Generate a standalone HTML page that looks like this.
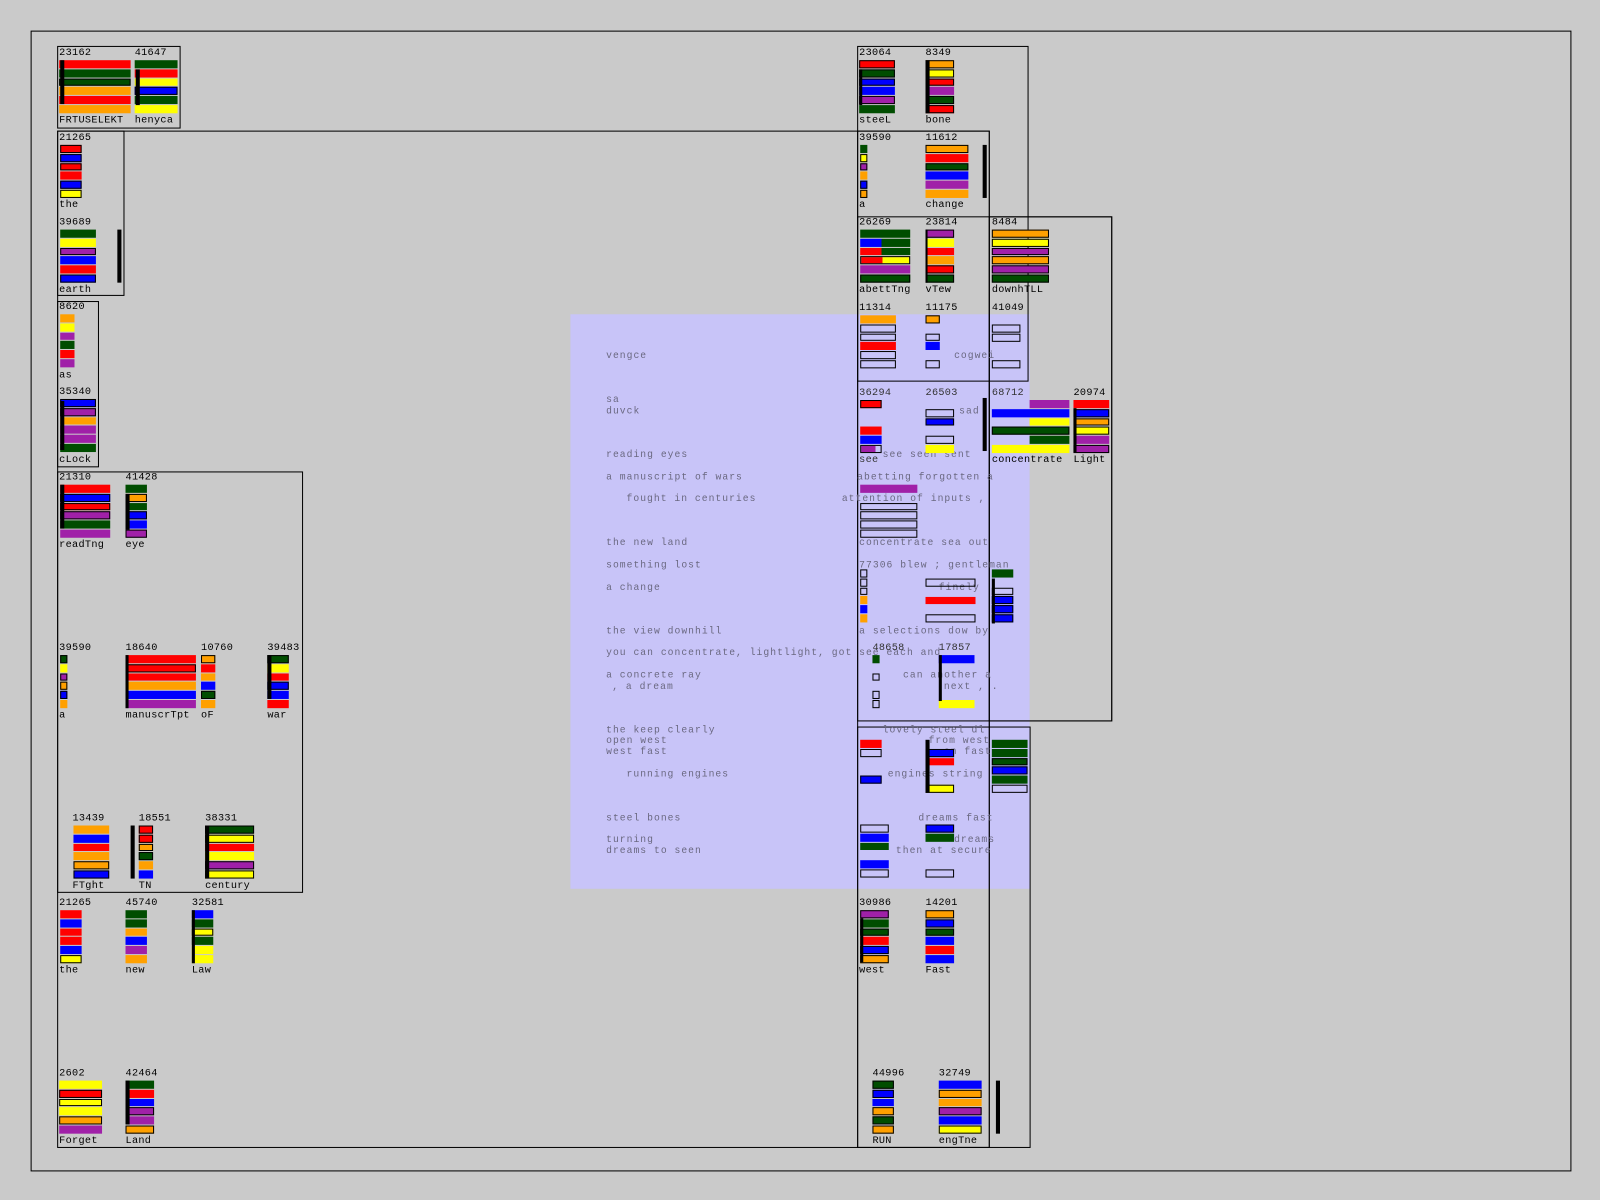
<!DOCTYPE html>
<html><head><meta charset="utf-8"><style>
html,body{margin:0;padding:0;background:#cacaca;width:1600px;height:1200px;overflow:hidden}
#w{position:absolute;left:0;top:0;width:1568px;height:1176px;transform:scale(1.020408);transform-origin:0 0;font-family:"Liberation Mono",monospace;font-size:10px;color:#000}
.bx{position:absolute;border:1px solid #000;box-sizing:border-box}
.t{position:absolute;line-height:10px;white-space:nowrap;letter-spacing:0.3px;padding-top:2px}
.s{position:absolute}
.s i{display:block;height:7.8px;margin-bottom:1px;box-sizing:border-box}
.r{background:#f00}.g{background:#004d00}.b{background:#00f}.y{background:#ff0}.o{background:#ffa000}.p{background:#a020a8}
.k{border:1px solid #000}.e{border:1px solid #000;background:transparent}.x{visibility:hidden}
.st{position:absolute;background:#000;width:4px}
.lv{position:absolute;line-height:10px;white-space:nowrap;color:#6a6880;font-size:9.5px;letter-spacing:1px;padding-top:1px}
</style></head><body><div id="w">
<div style="position:absolute;left:559px;top:308px;width:450px;height:563px;background:#c8c4f8"></div>
<div class="bx" style="left:30px;top:30px;width:1510px;height:1118px"></div>
<div class="bx" style="left:56px;top:45px;width:121px;height:81px"></div>
<div class="bx" style="left:56px;top:128px;width:914px;height:997px"></div>
<div class="bx" style="left:56px;top:128px;width:66px;height:162px"></div>
<div class="bx" style="left:56px;top:295px;width:41px;height:163px"></div>
<div class="bx" style="left:56px;top:462px;width:241px;height:413px"></div>
<div class="bx" style="left:840px;top:45px;width:168px;height:329px"></div>
<div class="bx" style="left:840px;top:128px;width:130px;height:997px"></div>
<div class="bx" style="left:840px;top:212px;width:250px;height:495px"></div>
<div class="bx" style="left:969px;top:212px;width:121px;height:495px"></div>
<div class="bx" style="left:840px;top:712px;width:170px;height:413px"></div>

<div class="lv" style="left:594px;top:343px">vengce</div>
<div class="lv" style="left:594px;top:386px">sa</div>
<div class="lv" style="left:594px;top:397px">duvck</div>
<div class="lv" style="left:594px;top:440px">reading eyes</div>
<div class="lv" style="left:594px;top:462px">a manuscript of wars</div>
<div class="lv" style="left:614px;top:483px">fought in centuries</div>
<div class="lv" style="left:594px;top:526px">the new land</div>
<div class="lv" style="left:594px;top:548px">something lost</div>
<div class="lv" style="left:594px;top:570px">a change</div>
<div class="lv" style="left:594px;top:613px">the view downhill</div>
<div class="lv" style="left:594px;top:634px">you can concentrate, lightlight, got see each and</div>
<div class="lv" style="left:594px;top:656px">a concrete ray</div>
<div class="lv" style="left:600px;top:667px">, a dream</div>
<div class="lv" style="left:594px;top:710px">the keep clearly</div>
<div class="lv" style="left:594px;top:720px">open west</div>
<div class="lv" style="left:594px;top:731px">west fast</div>
<div class="lv" style="left:614px;top:753px">running engines</div>
<div class="lv" style="left:594px;top:796px">steel bones</div>
<div class="lv" style="left:594px;top:817px">turning</div>
<div class="lv" style="left:594px;top:828px">dreams to seen</div>
<div class="lv" style="left:935px;top:343px">cogwei</div>
<div class="lv" style="left:940px;top:397px">sad</div>
<div class="lv" style="left:865px;top:440px">see seen sent</div>
<div class="lv" style="left:840px;top:462px">abetting forgotten a</div>
<div class="lv" style="left:825px;top:483px">attention of inputs ,</div>
<div class="lv" style="left:842px;top:526px">concentrate sea out</div>
<div class="lv" style="left:842px;top:548px">77306 blew ; gentleman</div>
<div class="lv" style="left:920px;top:570px">finely</div>
<div class="lv" style="left:842px;top:613px">a selections dow by</div>
<div class="lv" style="left:885px;top:656px">can another a</div>
<div class="lv" style="left:925px;top:667px">next , .</div>
<div class="lv" style="left:865px;top:710px">lovely steel dl</div>
<div class="lv" style="left:910px;top:720px">from west</div>
<div class="lv" style="left:925px;top:731px">on fast</div>
<div class="lv" style="left:870px;top:753px">engines string</div>
<div class="lv" style="left:900px;top:796px">dreams fast</div>
<div class="lv" style="left:935px;top:817px">dreams</div>
<div class="lv" style="left:878px;top:828px">then at secure</div>

<div class="t" style="left:58px;top:46px">23162</div>
<div class="s" style="left:58px;top:59px;width:70px"><i class="r"></i><i class="g"></i><i class="g k"></i><i class="o"></i><i class="r"></i><i class="o"></i></div>
<div class="st" style="left:59px;top:59px;height:43px"></div>
<div class="t" style="left:58px;top:112px">FRTUSELEKT</div>

<div class="t" style="left:132px;top:46px">41647</div>
<div class="s" style="left:132px;top:59px;width:42px"><i class="g"></i><i class="r"></i><i class="y"></i><i class="b k"></i><i class="g"></i><i class="y"></i></div>
<div class="st" style="left:133px;top:68px;height:35px"></div>
<div class="t" style="left:132px;top:112px">henyca</div>

<div class="t" style="left:58px;top:129px">21265</div>
<div class="s" style="left:59px;top:142px;width:21px"><i class="r k"></i><i class="b k"></i><i class="r k"></i><i class="r"></i><i class="b k"></i><i class="y k"></i></div>
<div class="t" style="left:58px;top:195px">the</div>

<div class="t" style="left:58px;top:212px">39689</div>
<div class="s" style="left:59px;top:225px;width:35px"><i class="g"></i><i class="y"></i><i class="p k"></i><i class="b"></i><i class="r"></i><i class="b k"></i></div>
<div class="st" style="left:115px;top:225px;height:52px"></div>
<div class="t" style="left:58px;top:278px">earth</div>

<div class="t" style="left:58px;top:295px">8620</div>
<div class="s" style="left:59px;top:308px;width:14px"><i class="o"></i><i class="y"></i><i class="p"></i><i class="g"></i><i class="r"></i><i class="p"></i></div>
<div class="t" style="left:58px;top:362px">as</div>

<div class="t" style="left:58px;top:378px">35340</div>
<div class="s" style="left:59px;top:391px;width:35px"><i class="b k"></i><i class="p k"></i><i class="o"></i><i class="p"></i><i class="p"></i><i class="g"></i></div>
<div class="st" style="left:59px;top:393px;height:48px"></div>
<div class="t" style="left:58px;top:445px">cLock</div>

<div class="t" style="left:58px;top:462px">21310</div>
<div class="s" style="left:59px;top:475px;width:49px"><i class="r"></i><i class="b k"></i><i class="r k"></i><i class="p k"></i><i class="g"></i><i class="p"></i></div>
<div class="st" style="left:59px;top:475px;height:43px"></div>
<div class="t" style="left:58px;top:528px">readTng</div>

<div class="t" style="left:123px;top:462px">41428</div>
<div class="s" style="left:123px;top:475px;width:21px"><i class="g"></i><i class="o k"></i><i class="g"></i><i class="b k"></i><i class="b"></i><i class="p k"></i></div>
<div class="st" style="left:123px;top:484px;height:35px"></div>
<div class="t" style="left:123px;top:528px">eye</div>

<div class="t" style="left:58px;top:629px">39590</div>
<div class="s" style="left:59px;top:642px;width:7px"><i class="g k"></i><i class="y"></i><i class="p k"></i><i class="o k"></i><i class="b k"></i><i class="o"></i></div>
<div class="t" style="left:58px;top:695px">a</div>

<div class="t" style="left:123px;top:629px">18640</div>
<div class="s" style="left:123px;top:642px;width:69px"><i class="r"></i><i class="r k"></i><i class="r"></i><i class="o"></i><i class="b"></i><i class="p"></i></div>
<div class="st" style="left:123px;top:642px;height:52px;width:3px"></div>
<div class="t" style="left:123px;top:695px">manuscrTpt</div>

<div class="t" style="left:197px;top:629px">10760</div>
<div class="s" style="left:197px;top:642px;width:14px"><i class="o k"></i><i class="r"></i><i class="o"></i><i class="b"></i><i class="g k"></i><i class="o"></i></div>
<div class="t" style="left:197px;top:695px">oF</div>

<div class="t" style="left:262px;top:629px">39483</div>
<div class="s" style="left:262px;top:642px;width:21px"><i class="g k"></i><i class="y"></i><i class="r"></i><i class="b k"></i><i class="b"></i><i class="r"></i></div>
<div class="st" style="left:262px;top:642px;height:43px"></div>
<div class="t" style="left:262px;top:695px">war</div>

<div class="t" style="left:71px;top:796px">13439</div>
<div class="s" style="left:72px;top:809px;width:35px"><i class="o"></i><i class="b"></i><i class="r"></i><i class="o"></i><i class="o k"></i><i class="b k"></i></div>
<div class="t" style="left:71px;top:862px">FTght</div>

<div class="t" style="left:136px;top:796px">18551</div>
<div class="s" style="left:136px;top:809px;width:14px"><i class="r k"></i><i class="r k"></i><i class="o k"></i><i class="g k"></i><i class="o"></i><i class="b"></i></div>
<div class="st" style="left:128px;top:809px;height:52px"></div>
<div class="t" style="left:136px;top:862px">TN</div>

<div class="t" style="left:201px;top:796px">38331</div>
<div class="s" style="left:201px;top:809px;width:48px"><i class="g k"></i><i class="y k"></i><i class="r"></i><i class="y"></i><i class="p k"></i><i class="y k"></i></div>
<div class="st" style="left:201px;top:809px;height:52px"></div>
<div class="t" style="left:201px;top:862px">century</div>

<div class="t" style="left:58px;top:879px">21265</div>
<div class="s" style="left:59px;top:892px;width:21px"><i class="r"></i><i class="b"></i><i class="r"></i><i class="r"></i><i class="b"></i><i class="y k"></i></div>
<div class="t" style="left:58px;top:945px">the</div>

<div class="t" style="left:123px;top:879px">45740</div>
<div class="s" style="left:123px;top:892px;width:21px"><i class="g"></i><i class="g"></i><i class="o"></i><i class="b"></i><i class="p"></i><i class="o"></i></div>
<div class="t" style="left:123px;top:945px">new</div>

<div class="t" style="left:188px;top:879px">32581</div>
<div class="s" style="left:188px;top:892px;width:21px"><i class="b"></i><i class="g"></i><i class="y k"></i><i class="g"></i><i class="y"></i><i class="y"></i></div>
<div class="st" style="left:188px;top:892px;height:52px;width:3px"></div>
<div class="t" style="left:188px;top:945px">Law</div>

<div class="t" style="left:58px;top:1046px">2602</div>
<div class="s" style="left:58px;top:1059px;width:42px"><i class="y"></i><i class="r k"></i><i class="y k"></i><i class="y"></i><i class="o k"></i><i class="p"></i></div>
<div class="t" style="left:58px;top:1112px">Forget</div>

<div class="t" style="left:123px;top:1046px">42464</div>
<div class="s" style="left:123px;top:1059px;width:28px"><i class="g"></i><i class="r"></i><i class="b"></i><i class="p k"></i><i class="p"></i><i class="o k"></i></div>
<div class="st" style="left:123px;top:1059px;height:43px"></div>
<div class="t" style="left:123px;top:1112px">Land</div>

<div class="t" style="left:842px;top:46px">23064</div>
<div class="s" style="left:842px;top:59px;width:35px"><i class="r k"></i><i class="g k"></i><i class="b k"></i><i class="b"></i><i class="p k"></i><i class="g"></i></div>
<div class="st" style="left:842px;top:68px;height:35px;width:3px"></div>
<div class="t" style="left:842px;top:112px">steeL</div>

<div class="t" style="left:907px;top:46px">8349</div>
<div class="s" style="left:907px;top:59px;width:28px"><i class="o k"></i><i class="y k"></i><i class="r k"></i><i class="p"></i><i class="g k"></i><i class="r k"></i></div>
<div class="st" style="left:907px;top:59px;height:52px"></div>
<div class="t" style="left:907px;top:112px">bone</div>

<div class="t" style="left:842px;top:129px">39590</div>
<div class="s" style="left:843px;top:142px;width:7px"><i class="g"></i><i class="y k"></i><i class="p k"></i><i class="o"></i><i class="b k"></i><i class="o k"></i></div>
<div class="t" style="left:842px;top:195px">a</div>

<div class="t" style="left:907px;top:129px">11612</div>
<div class="s" style="left:907px;top:142px;width:42px"><i class="o k"></i><i class="r"></i><i class="g k"></i><i class="b"></i><i class="p"></i><i class="o"></i></div>
<div class="st" style="left:963px;top:142px;height:52px"></div>
<div class="t" style="left:907px;top:195px">change</div>

<div class="t" style="left:842px;top:212px">26269</div>
<div class="s" style="left:843px;top:225px;width:49px"><i class="g"></i><i class="g" style="background:linear-gradient(90deg,#00f 0 21px,#004d00 21px)"></i><i class="g" style="background:linear-gradient(90deg,#f00 0 21px,#004d00 21px)"></i><i class="k" style="background:linear-gradient(90deg,#f00 0 21px,#ff0 21px)"></i><i class="p"></i><i class="g k"></i></div>
<div class="t" style="left:842px;top:278px">abettTng</div>

<div class="t" style="left:907px;top:212px">23814</div>
<div class="s" style="left:907px;top:225px;width:28px"><i class="p k"></i><i class="y"></i><i class="r"></i><i class="o"></i><i class="r k"></i><i class="g k"></i></div>
<div class="st" style="left:907px;top:225px;height:52px;width:2px"></div>
<div class="t" style="left:907px;top:278px">vTew</div>

<div class="t" style="left:972px;top:212px">8484</div>
<div class="s" style="left:972px;top:225px;width:56px"><i class="o k"></i><i class="y k"></i><i class="p k"></i><i class="o k"></i><i class="p k"></i><i class="g k"></i></div>
<div class="t" style="left:972px;top:278px">downhTLL</div>

<div class="t" style="left:842px;top:296px">11314</div>
<div class="s" style="left:843px;top:309px;width:35px"><i class="o"></i><i class="e"></i><i class="e"></i><i class="r"></i><i class="e"></i><i class="e"></i></div>
<div class="t" style="left:907px;top:296px">11175</div>
<div class="s" style="left:907px;top:309px;width:14px"><i class="o k"></i><i class="x"></i><i class="e"></i><i class="b"></i><i class="x"></i><i class="e"></i></div>
<div class="t" style="left:972px;top:296px">41049</div>
<div class="s" style="left:972px;top:318px;width:28px"><i class="e"></i><i class="e"></i><i class="x"></i><i class="x"></i><i class="e"></i></div>

<div class="t" style="left:842px;top:379px;color:#333">36294</div>
<div class="s" style="left:843px;top:392px;width:21px"><i class="r k"></i><i class="x"></i><i class="x"></i><i class="r"></i><i class="b"></i><i class="e" style="background:linear-gradient(90deg,#a020a8 0 14px,transparent 14px)"></i></div>
<div class="t" style="left:842px;top:445px;color:#333">see</div>
<div class="t" style="left:907px;top:379px;color:#333">26503</div>
<div class="s" style="left:907px;top:392px;width:28px"><i class="x"></i><i class="e"></i><i class="b k"></i><i class="x"></i><i class="e"></i><i class="y"></i></div>
<div class="st" style="left:963px;top:390px;height:52px"></div>
<div class="t" style="left:972px;top:379px;color:#333">68712</div>
<div class="s" style="left:972px;top:392px;width:76px"><i class="p" style="margin-left:37px;width:39px"></i><i class="b"></i><i class="y" style="margin-left:37px;width:39px"></i><i class="g k"></i><i class="g" style="margin-left:37px;width:39px"></i><i class="y"></i></div>
<div class="t" style="left:972px;top:445px">concentrate</div>
<div class="t" style="left:1052px;top:379px">20974</div>
<div class="s" style="left:1052px;top:392px;width:35px"><i class="r"></i><i class="b k"></i><i class="o k"></i><i class="y k"></i><i class="p"></i><i class="p k"></i></div>
<div class="st" style="left:1052px;top:400px;height:43px;width:3px"></div>
<div class="t" style="left:1052px;top:445px">Light</div>

<div class="s" style="left:843px;top:475px;width:56px"><i class="p"></i><i class="x"></i><i class="e"></i><i class="e"></i><i class="e"></i><i class="e"></i></div>
<div class="s" style="left:843px;top:558px;width:7px"><i class="e"></i><i class="e"></i><i class="e"></i><i class="o"></i><i class="b"></i><i class="o"></i></div>
<div class="s" style="left:907px;top:567px;width:49px"><i class="e"></i><i class="x"></i><i class="r"></i><i class="x"></i><i class="e"></i></div>
<div class="s" style="left:972px;top:558px;width:21px"><i class="g"></i><i class="x"></i><i class="e"></i><i class="b k"></i><i class="b k"></i><i class="b k"></i></div>
<div class="st" style="left:972px;top:567px;height:44px;width:3px"></div>
<div class="t" style="left:855px;top:629px;color:#333">48658</div>
<div class="s" style="left:855px;top:642px;width:7px"><i class="g"></i><i class="x"></i><i class="e"></i><i class="x"></i><i class="e"></i><i class="e"></i></div>
<div class="t" style="left:920px;top:629px;color:#333">17857</div>
<div class="s" style="left:920px;top:642px;width:35px"><i class="b"></i><i class="x"></i><i class="x"></i><i class="x"></i><i class="x"></i><i class="y"></i></div>
<div class="st" style="left:920px;top:642px;height:45px;width:3px"></div>

<div class="s" style="left:843px;top:725px;width:21px"><i class="r"></i><i class="e"></i><i class="x"></i><i class="x"></i><i class="b k"></i></div>
<div class="s" style="left:907px;top:725px;width:28px"><i class="x"></i><i class="b k"></i><i class="r"></i><i class="x"></i><i class="x"></i><i class="y k"></i></div>
<div class="st" style="left:907px;top:725px;height:52px"></div>
<div class="s" style="left:972px;top:725px;width:35px"><i class="g"></i><i class="g"></i><i class="g k"></i><i class="b k"></i><i class="g"></i><i class="e"></i></div>
<div class="s" style="left:843px;top:808px;width:28px"><i class="e"></i><i class="b"></i><i class="g"></i><i class="x"></i><i class="b"></i><i class="e"></i></div>
<div class="s" style="left:907px;top:808px;width:28px"><i class="b k"></i><i class="g"></i><i class="x"></i><i class="x"></i><i class="x"></i><i class="e"></i></div>

<div class="t" style="left:842px;top:879px">30986</div>
<div class="s" style="left:843px;top:892px;width:28px"><i class="p k"></i><i class="g"></i><i class="g k"></i><i class="r"></i><i class="b k"></i><i class="o k"></i></div>
<div class="st" style="left:843px;top:900px;height:43px;width:3px"></div>
<div class="t" style="left:842px;top:945px">west</div>
<div class="t" style="left:907px;top:879px">14201</div>
<div class="s" style="left:907px;top:892px;width:28px"><i class="o k"></i><i class="b k"></i><i class="g k"></i><i class="b"></i><i class="r"></i><i class="b"></i></div>
<div class="t" style="left:907px;top:945px">Fast</div>

<div class="t" style="left:855px;top:1046px">44996</div>
<div class="s" style="left:855px;top:1059px;width:21px"><i class="g k"></i><i class="b k"></i><i class="b"></i><i class="o k"></i><i class="g k"></i><i class="o k"></i></div>
<div class="t" style="left:855px;top:1112px">RUN</div>
<div class="t" style="left:920px;top:1046px">32749</div>
<div class="s" style="left:920px;top:1059px;width:42px"><i class="b"></i><i class="o k"></i><i class="o"></i><i class="p k"></i><i class="b"></i><i class="y k"></i></div>
<div class="st" style="left:976px;top:1059px;height:52px"></div>
<div class="t" style="left:920px;top:1112px">engTne</div>
</div></body></html>
